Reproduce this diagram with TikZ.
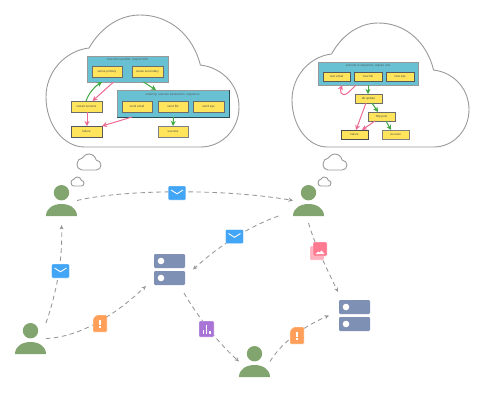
\documentclass[tikz,border=0pt]{standalone}
\usepackage{fontspec}
\setmainfont{Liberation Sans}
\usetikzlibrary{arrows.meta,calc}
\definecolor{panelc}{HTML}{67C1D3}
\definecolor{yellowc}{HTML}{FFE45C}
\definecolor{personc}{HTML}{82A56F}
\definecolor{serverc}{HTML}{7F90B5}
\definecolor{mailc}{HTML}{42A5F5}
\definecolor{alertc}{HTML}{FF9F5A}
\definecolor{chartc}{HTML}{A974D6}
\definecolor{imgc}{HTML}{FF7A90}
\definecolor{imgbackc}{HTML}{FFB0BE}
\definecolor{okc}{HTML}{3FA83F}
\definecolor{badc}{HTML}{EC6A92}
\definecolor{flowc}{HTML}{969696}
\definecolor{cloudc}{HTML}{9A9A9A}
\tikzset{
  panelbox/.style={draw=#1,fill=panelc,line width=1pt,inner sep=0pt,outer sep=0pt,align=center,font=\fontsize{3}{3.5}\selectfont,text=black!70},
  panelbox/.default=gray!80,
  taskbox/.style={draw=#1,fill=yellowc,line width=1pt,inner sep=0pt,outer sep=0pt,align=center,font=\fontsize{3}{3.5}\selectfont,text=black!70},
  taskbox/.default=gray!85!black,
  tasktitle/.style={font=\fontsize{3}{3.5}\selectfont,text=black!65},
  hold/.style={inner sep=0pt,outer sep=0pt},
  okarrow/.style={draw=okc,line width=1pt,-{Stealth[length=5pt,width=5pt]}},
  badarrow/.style={draw=badc,line width=1pt,-{Stealth[length=5pt,width=5pt]}},
  flow/.style={draw=flowc,line width=.85pt,dash pattern=on 4.5pt off 3.5pt,-{Stealth[length=4.5pt,width=4pt]}},
  cloudline/.style={draw=cloudc,line width=.9pt,fill=white,line join=round},
  icon/.style={draw=white,line width=.3pt,rounded corners=1pt}
}
% rectangle node given by its edges: style, name, x0, y0, x1, y1, text
\newcommand{\boxnode}[7]{\node[#1,minimum width={(#5-#3)*1pt},minimum height={(#6-#4)*1pt}] (#2) at ({(#3+#5)/2},{(#4+#6)/2}) {#7};}
\newcommand{\cloudat}[4]{\begin{scope}[shift={(#1,#2)},x=#3pt,y=-#4pt]
  \draw[cloudline] (.223,.25) .. controls (.29,.08) and (.39,0) .. (.487,0)
   .. controls (.64,0) and (.76,.15) .. (.80,.379)
   .. controls (.92,.40) and (1,.54) .. (1,.697)
   .. controls (1,.87) and (.91,1) .. (.80,1) -- (.2,1)
   .. controls (.09,1) and (0,.83) .. (0,.62)
   .. controls (0,.43) and (.10,.27) .. (.223,.25) -- cycle;
\end{scope}}
\newcommand{\personat}[3]{% name, cx, bottom
  \node[hold,minimum width=31pt,minimum height=31pt] (#1) at (#2,#3-15.5) {};
  \fill[personc] (#2,#3-23.3) circle (7.7pt);
  \fill[personc] (#2-15.5,#3) .. controls (#2-15.5,#3-8) and (#2-8,#3-12) .. (#2,#3-12)
     .. controls (#2+8,#3-12) and (#2+15.5,#3-8) .. (#2+15.5,#3) -- cycle;}
\newcommand{\serverat}[3]{% name, left, top
  \node[hold,minimum width=31pt,minimum height=31pt] (#1) at (#2+15.5,#3+15.5) {};
  \fill[serverc,rounded corners=1.2pt] (#2,#3) rectangle (#2+31,#3+14);
  \fill[serverc,rounded corners=1.2pt] (#2,#3+17) rectangle (#2+31,#3+31);
  \fill[white] (#2+7,#3+7) circle (3.3pt);
  \fill[white] (#2+7,#3+24) circle (3.3pt);}
\newcommand{\mailat}[2]{% cx, cy
  \filldraw[icon,fill=mailc] (#1-8.8,#2-7) rectangle (#1+8.8,#2+7);
  \draw[white,line width=.9pt] (#1-6,#2-3) -- (#1,#2+.8) -- (#1+6,#2-3);}
\newcommand{\alertat}[2]{% cx, cy
  \filldraw[icon,fill=alertc] (#1-7,#2-5) -- (#1-3.5,#2-8.5) -- (#1+7,#2-8.5) -- (#1+7,#2+8.5) -- (#1-7,#2+8.5) -- cycle;
  \fill[white] (#1-.8,#2-4) rectangle (#1+.8,#2+1.2);
  \fill[white] (#1-.8,#2+2.6) rectangle (#1+.8,#2+4.4);}
\begin{document}
\begin{tikzpicture}[x=1pt,y=-1pt]
\useasboundingbox (0,0) rectangle (500,408);
% big clouds
\cloudat{46}{15}{193}{132}
\cloudat{292}{23}{177}{124}
% thought clouds
\cloudat{77}{154}{24}{16}
\cloudat{71}{177}{13}{9}
\cloudat{323}{154}{24}{16}
\cloudat{318}{177}{13}{9}
% left workflow
\boxnode{panelbox}{pa}{87}{56}{168}{82}{}
\node[tasktitle] (patitle) at (127.5,60) {execution parallel: require both};
\boxnode{taskbox}{sp}{92}{66}{122}{77}{sense primary}
\boxnode{taskbox}{ss}{132}{66}{163}{77}{sense secondary}
\boxnode{panelbox}{pb}{117}{90}{229}{117}{}
\draw[black!60!panelc,line width=1pt] (pb.north east) -- (pb.south east) -- (pb.south west);
\node[tasktitle] (pbtitle) at (172.5,95) {ordering: execute transaction: sequence};
\boxnode{taskbox}{se}{122}{101}{152}{112}{send email}
\boxnode{taskbox}{sf}{158}{101}{188}{112}{send file}
\boxnode{taskbox}{sq}{193}{101}{224}{112}{send sqs}
\boxnode{taskbox}{rs}{71}{101}{102}{112}{restart sensors}
\boxnode{taskbox=black!65}{lf}{71}{126}{102}{137}{failure}
\boxnode{taskbox=gray}{ls}{158}{126}{188}{137}{success}
\draw[okarrow] ([xshift=16pt]pa.south) -- ([xshift=-17pt]pb.north);
\draw[badarrow] ([xshift=-14pt]pa.south) -- ([xshift=6pt]rs.north);
\draw[okarrow] ([xshift=-0.5pt]rs.north) .. controls (89,93) and (94,87) .. ([xshift=-25.5pt]pa.south);
\draw[badarrow] ([xshift=.5pt]rs.south) -- ([xshift=.5pt]lf.north);
\draw[badarrow] ([xshift=-41pt]pb.south) -- (lf.north east);
\draw[okarrow] ([xshift=.5pt]pb.south) -- (ls.north);
% right workflow
\boxnode{panelbox}{pc}{318}{62}{418}{85}{}
\node[tasktitle] (pctitle) at (368,66) {execute in sequence, require one};
\boxnode{taskbox=black!65}{ne}{323}{72}{350}{81}{new email}
\boxnode{taskbox=black!65}{nf}{354}{72}{382}{81}{new file}
\boxnode{taskbox=black!65}{nq}{386}{72}{414}{81}{new sqs}
\boxnode{taskbox}{db}{355}{94}{382}{103}{db update}
\boxnode{taskbox}{hp}{368}{112}{395}{121}{http post}
\boxnode{taskbox=black!70}{rf}{341}{130}{368}{139}{failure}
\boxnode{taskbox=gray}{rk}{382}{130}{409}{139}{success}
\draw[badarrow] ([xshift=-12pt]pc.south) .. controls (350,91) and (344,98) .. (341,93) .. controls (340,91) and (341,88) .. ([xshift=-26pt]pc.south);
\draw[okarrow] (pc.south) -- ([xshift=-.5pt]db.north);
\draw[badarrow] ([xshift=-2.5pt]db.south) -- ([xshift=1.5pt]rf.north);
\draw[okarrow] ([xshift=3.5pt]db.south) -- ([xshift=-3.5pt]hp.north);
\draw[badarrow] ([xshift=-6.5pt]hp.south) -- ([xshift=7.5pt]rf.north);
\draw[okarrow] ([xshift=4.5pt]hp.south) -- ([xshift=-4.5pt]rk.north);
% people and servers
\personat{tl}{61.5}{216}
\personat{tr}{308.5}{216}
\personat{bl}{30.5}{354}
\personat{bm}{254.5}{377}
\serverat{sc}{154}{254}
\serverat{sr}{339}{300}
% message flows
\draw[flow] (tl.east) .. controls (120,190) and (220,188) .. (tr.west);
\draw[flow] ([xshift=-30pt]tr.south) .. controls (250,226) and (220,245) .. ([xshift=8pt]sc.east);
\draw[flow] (bl.north east) .. controls (54,300) and (63,265) .. ([yshift=-9pt]tl.south);
\draw[flow] (bl.east) .. controls (80,337) and (115,315) .. ([xshift=-8pt,yshift=-1pt]sc.south west);
\draw[flow] ([xshift=-1pt,yshift=-8pt]sc.south east) .. controls (195,312) and (215,340) .. (bm.west);
\draw[flow] ([yshift=-7pt]tr.south) .. controls (315,245) and (325,265) .. ([xshift=-1pt,yshift=8pt]sr.north west);
\draw[flow] (bm.east) .. controls (280,345) and (300,328) .. ([xshift=-10pt]sr.west);
% icons on the flows
\mailat{177}{193}
\mailat{234.5}{236.5}
\mailat{60.5}{271}
\alertat{100}{323.5}
\alertat{297}{335.5}
\filldraw[icon,fill=chartc] (199,321) rectangle (214,337);
\fill[white] (202.6,329.5) rectangle (204.2,333.5);
\fill[white] (205.8,325) rectangle (207.4,333.5);
\fill[white] (209,330.5) rectangle (210.6,333.5);
\filldraw[icon,fill=imgbackc] (310,246) rectangle (324,260);
\filldraw[icon,fill=imgc] (313,242) rectangle (327,256);
\fill[white] (315.5,254) -- (318,251.5) -- (319.5,252.5) -- (321.5,250.5) -- (324.5,254) -- cycle;
\end{tikzpicture}
\end{document}
